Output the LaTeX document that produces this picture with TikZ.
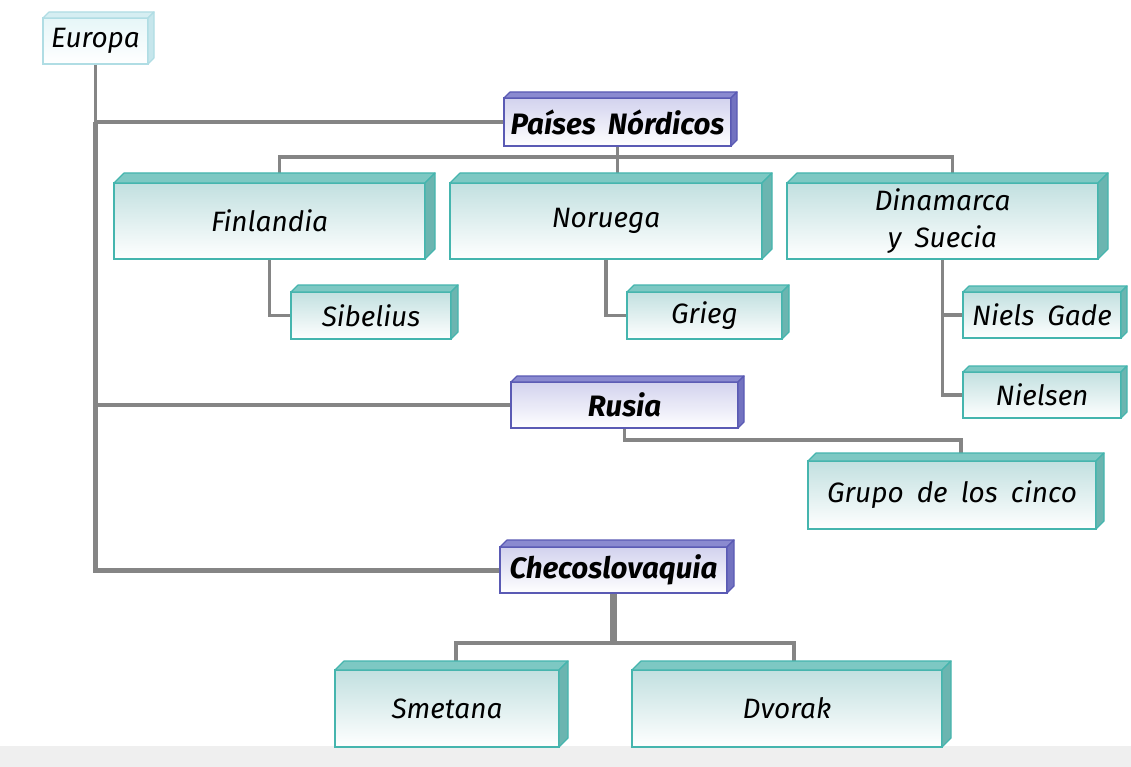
\documentclass[tikz,border=0pt]{standalone}
\usepackage{fontspec}
\setmainfont[WordSpace=1.8]{Fira Sans}
\usetikzlibrary{calc,backgrounds}
\definecolor{tlb}{HTML}{45B5AE}
\definecolor{tltop}{HTML}{7DC8C3}
\definecolor{tlside}{HTML}{6BB5B0}
\definecolor{tlft}{HTML}{C2E0E0}
\definecolor{pub}{HTML}{5A5AB4}
\definecolor{putop}{HTML}{8A8AD0}
\definecolor{puside}{HTML}{7272C0}
\definecolor{puft}{HTML}{D2D2EE}
\definecolor{pab}{HTML}{B0DDE4}
\definecolor{patop}{HTML}{D6EEF2}
\definecolor{paside}{HTML}{C6E6EC}
\definecolor{paft}{HTML}{E6F6F8}
\definecolor{linegray}{HTML}{858585}
\definecolor{bandgray}{HTML}{EFEFEF}
\newcommand\tdbox[8]{%
  \node[#2front, minimum width={(#5-#3)*1pt}, minimum height={(#6-#4)*1pt}] (#1) at ({(#3+#5)/2},{(#4+#6)/2}) {#8};
  \filldraw[#2face, fill=#2top] (#1.north west) -- ++(#7,-#7) -- ($(#1.north east)+(#7,-#7)$) -- (#1.north east) -- cycle;
  \filldraw[#2face, fill=#2side] (#1.north east) -- ++(#7,-#7) -- ($(#1.south east)+(#7,-#7)$) -- (#1.south east) -- cycle;
}
\begin{document}
\begin{tikzpicture}[x=1pt,y=-1pt,
  lbl/.style={font=\fontsize{28}{37}\selectfont\itshape, align=center, text=black, inner sep=0pt, outer sep=0pt},
  blbl/.style={font=\fontsize{29.5}{37}\selectfont\bfseries\itshape, align=center, text=black, inner sep=0pt, outer sep=0pt},
  tlfront/.style={lbl, draw=tlb, line width=1.2pt, top color=tlft, bottom color=white},
  tlface/.style={draw=tlb, line width=1.2pt, line join=round},
  pufront/.style={blbl, draw=pub, line width=1.2pt, top color=puft, bottom color=white},
  puface/.style={draw=pub, line width=1.2pt, line join=round},
  pafront/.style={lbl, draw=pab, line width=1.2pt, top color=paft, bottom color=white},
  paface/.style={draw=pab, line width=1.2pt, line join=round},
  link/.style={draw=linegray, line width=3.6pt},
  trunk/.style={draw=linegray, line width=5pt},
]
\useasboundingbox (0,0) rectangle (1131,767);

\tdbox{eur}{pa}{43}{18}{148}{64}{6}{Europa}
\tdbox{pn}{pu}{504}{98}{731}{146}{6}{Países Nórdicos}
\tdbox{fin}{tl}{114}{183}{425}{259}{10}{Finlandia}
\tdbox{nor}{tl}{450}{183}{762}{259}{10}{Noruega}
\tdbox{din}{tl}{787}{183}{1098}{259}{10}{Dinamarca\\y Suecia}
\tdbox{sib}{tl}{291}{292}{451}{339}{7}{Sibelius}
\tdbox{gri}{tl}{627}{292}{782}{339}{7}{Grieg}
\tdbox{ngd}{tl}{963}{292}{1121}{338}{6}{Niels Gade}
\tdbox{nie}{tl}{963}{372}{1121}{418}{6}{Nielsen}
\tdbox{rus}{pu}{511}{382}{738}{428}{6}{Rusia}
\tdbox{gru}{tl}{808}{461}{1096}{529}{8}{Grupo de los cinco}
\tdbox{chk}{pu}{500}{547}{727}{593}{7}{Checoslovaquia}
\tdbox{sme}{tl}{335}{670}{559}{747}{9}{Smetana}
\tdbox{dvo}{tl}{632}{670}{942}{747}{9}{Dvorak}

\begin{pgfonlayer}{background}
\fill[white] (0,0) rectangle (1131,767);
\fill[bandgray] (0,746) rectangle (1131,767);
\draw[draw=linegray, line width=3.5pt] (eur.south) -- (eur.south |- pn.west);
\draw[trunk] (eur.south |- pn.west) -- (eur.south |- chk.west) -- (chk.west);
\draw[link] (eur.south |- pn.west) -- (pn.west);
\draw[link] (eur.south |- rus.west) -- (rus.west);
\draw[link] (pn.south) -- ++(0,11) -| ($(fin.north)+(10,-10)$);
\draw[link] (pn.south) -- (pn.south |- nor.north);
\draw[link] (pn.south) -- ++(0,11) -| ($(din.north)+(10,-10)$);
\draw[link] (fin.south) |- (sib.west);
\draw[link] (nor.south) |- (gri.west);
\draw[link] (din.south) |- (ngd.west);
\draw[link] (din.south) |- (nie.west);
\draw[link] (rus.south) -- ++(0,12) -| ($(gru.north)+(9,-8)$);
\draw[draw=linegray, line width=7pt] (chk.south) -- ++(0,50);
\draw[link] (chk.south) ++(0,50) -| ($(sme.north)+(9,-9)$);
\draw[link] (chk.south) ++(0,50) -| ($(dvo.north)+(7,-9)$);
\end{pgfonlayer}
\end{tikzpicture}
\end{document}
